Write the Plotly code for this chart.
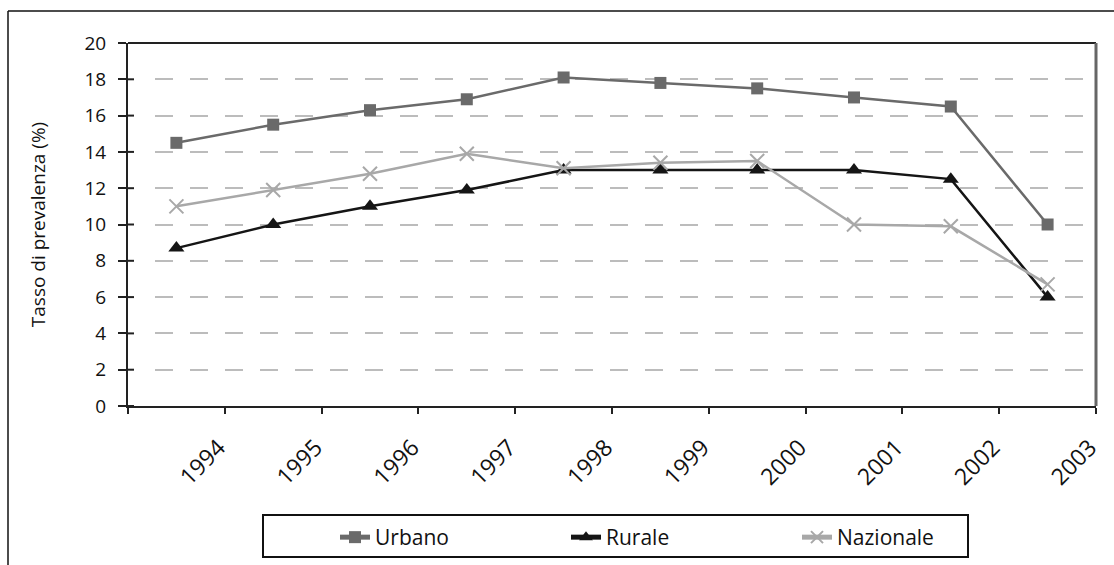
import plotly.graph_objects as go

# Prevalence rates (%) by area, 1994-2003
years = ["1994", "1995", "1996", "1997", "1998", "1999", "2000", "2001", "2002", "2003"]
urbano = [14.5, 15.5, 16.3, 16.9, 18.1, 17.8, 17.5, 17.0, 16.5, 10.0]
rurale = [8.7, 10.0, 11.0, 11.9, 13.0, 13.0, 13.0, 13.0, 12.5, 6.0]
nazionale = [11.0, 11.9, 12.8, 13.9, 13.1, 13.4, 13.5, 10.0, 9.9, 6.7]
y_ticks = list(range(0, 21, 2))

# points sit in the middle of each category slot; labels sit on slot boundaries
xpos = [i + 0.5 for i in range(len(years))]

FONT = "Open Sans"

fig = go.Figure()
fig.add_trace(go.Scatter(
    x=xpos, y=urbano, name="Urbano", mode="lines+markers",
    line=dict(color="#6a6a6a", width=2.5),
    marker=dict(symbol="square", size=12, color="#6a6a6a"),
))
fig.add_trace(go.Scatter(
    x=xpos, y=rurale, name="Rurale", mode="lines+markers",
    line=dict(color="#151515", width=2.5),
    marker=dict(symbol="triangle-up", size=14, color="#151515"),
))
fig.add_trace(go.Scatter(
    x=xpos, y=nazionale, name="Nazionale", mode="lines+markers",
    line=dict(color="#a8a8a8", width=2.5),
    marker=dict(symbol="x-thin", size=14, color="#a8a8a8",
                line=dict(color="#a8a8a8", width=2)),
))

L, R, T, B = 128, 18, 43, 159
W, H = 1114, 565
pw, ph = W - L - R, H - T - B


def px_x(p):
    return (p - L) / pw


def px_y(p):
    return (H - B - p) / ph


shapes = [
    # outer frame (top and left edges)
    dict(type="line", xref="paper", yref="paper", x0=px_x(8), x1=px_x(1114),
         y0=px_y(11), y1=px_y(11), line=dict(color="#111", width=1.5)),
    dict(type="line", xref="paper", yref="paper", x0=px_x(8), x1=px_x(8),
         y0=px_y(11), y1=px_y(565), line=dict(color="#111", width=1.5)),
    # plot area top and right borders
    dict(type="line", xref="paper", yref="paper", x0=0, x1=1, y0=1, y1=1,
         line=dict(color="#222", width=2)),
    dict(type="line", xref="paper", yref="paper", x0=1, x1=1, y0=0, y1=1,
         line=dict(color="#666", width=3)),
    # legend box
    dict(type="rect", xref="paper", yref="paper", x0=px_x(263), x1=px_x(968),
         y0=px_y(557), y1=px_y(515), line=dict(color="#111", width=2)),
]

# y ticks that cross the axis line (inner half)
for v in y_ticks:
    shapes.append(dict(type="line", xref="paper", yref="y",
                       x0=0, x1=px_x(134), y0=v, y1=v,
                       line=dict(color="#222", width=2)))

# dashed gridlines: leading gap next to the axis, then 18px dashes
grid_dash = "0px,27px," + ",".join(["18px,17px"] * 28)

fig.update_layout(
    width=W, height=H,
    margin=dict(l=L, r=R, t=T, b=B, autoexpand=False),
    paper_bgcolor="white", plot_bgcolor="white",
    font=dict(family=FONT, size=18, color="#111"),
    showlegend=True,
    legend=dict(
        orientation="h", x=px_x(335), xanchor="left", y=px_y(517), yanchor="top",
        borderwidth=0, bgcolor="rgba(0,0,0,0)",
        font=dict(family=FONT, size=21, color="#111"),
        entrywidth=186, entrywidthmode="pixels",
        itemsizing="constant",
    ),
    shapes=shapes,
    xaxis=dict(
        range=[0, 10], tickmode="array",
        tickvals=list(range(0, 11)), ticktext=[""] + years,
        tickangle=-45, ticks="outside", ticklen=6, tickwidth=2, tickcolor="#222",
        ticklabelstandoff=11, ticklabelshift=-6, automargin=False,
        showline=True, linecolor="#222", linewidth=2,
        showgrid=False, zeroline=False,
        tickfont=dict(family=FONT, size=23, color="#111"),
    ),
    yaxis=dict(
        range=[0, 20], tickmode="array", tickvals=y_ticks,
        ticks="outside", ticklen=8, tickwidth=2, tickcolor="#222",
        ticklabelstandoff=8, automargin=False,
        showline=True, linecolor="#222", linewidth=2,
        showgrid=True, gridcolor="#bcbcbc", gridwidth=2, griddash=grid_dash,
        zeroline=False,
        tickfont=dict(family=FONT, size=19, color="#111"),
        title=dict(text="Tasso di prevalenza (%)", standoff=34,
                   font=dict(family=FONT, size=19, color="#111")),
    ),
)

fig.write_html("out.html")
